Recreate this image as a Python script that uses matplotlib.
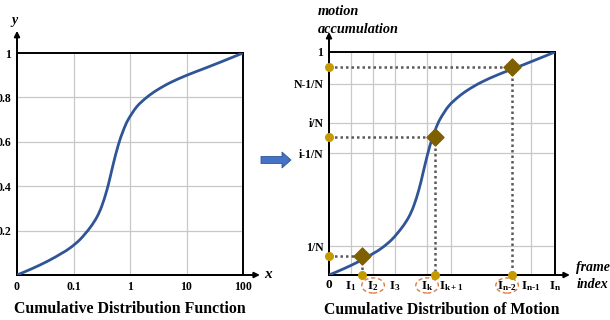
import matplotlib
matplotlib.use("Agg")
import matplotlib.pyplot as plt
from matplotlib.patches import Ellipse, FancyArrow, PathPatch
from matplotlib.path import Path

plt.rcParams["font.family"] = "Liberation Serif"
plt.rcParams["font.weight"] = "bold"
plt.rcParams["mathtext.fontset"] = "custom"
plt.rcParams["mathtext.rm"] = "Liberation Serif:bold"
plt.rcParams["mathtext.it"] = "Liberation Serif:italic:bold"
plt.rcParams["mathtext.bf"] = "Liberation Serif:bold"

CURVE = "#2F5597"
GRID = "#C8C8C8"
DOT = "#C49A00"
DIAMOND = "#7F6000"
DOTLINE = "#595959"
RING = "#E07A3F"

# cumulative curve (fraction of axis width / height)
curve_x = [0.0, 0.065, 0.139, 0.198, 0.235, 0.279, 0.323, 0.353, 0.375, 0.397,
           0.412, 0.426, 0.448, 0.470, 0.492, 0.530, 0.574, 0.618, 0.677,
           0.752, 0.823, 0.898, 1.0]
curve_y = [0.0, 0.028, 0.064, 0.098, 0.122, 0.160, 0.213, 0.260, 0.310, 0.380,
           0.440, 0.500, 0.585, 0.650, 0.700, 0.758, 0.800, 0.832, 0.866,
           0.900, 0.928, 0.958, 1.0]

# left panel: log-like x axis
cdf_xticks = [0.0, 0.25, 0.5, 0.75, 1.0]
cdf_xlabels = ["0", "0.1", "1", "10", "100"]
cdf_yticks = [0.2, 0.4, 0.6, 0.8, 1.0]
cdf_ylabels = ["0.2", "0.4", "0.6", "0.8", "1"]

# right panel: frame index axis
frame_pos = [0.0, 0.097, 0.195, 0.292, 0.434, 0.540, 0.788, 0.894, 1.0]
frame_labels = [r"0", r"I$_1$", r"I$_2$", r"I$_3$", r"I$_\mathrm{k}$",
                r"I$_\mathrm{k+1}$", r"I$_\mathrm{n\text{-}2}$",
                r"I$_\mathrm{n\text{-}1}$", r"I$_\mathrm{n}$"]
frame_grid = [0.097, 0.195, 0.292, 0.434, 0.540, 0.894]
circled = [2, 4, 6]
acc_pos = [0.13, 0.547, 0.682, 0.857, 1.0]
acc_labels = ["1/N", "i-1/N", "i/N", "N-1/N", "1"]

# sampled keyframes
sample_x = [0.146, 0.469, 0.81]
sample_y = [0.085, 0.619, 0.933]


def smooth_curve(ax, xs, ys):
    # Catmull-Rom through the read points, drawn as cubic Bezier segments
    pts = list(zip(xs, ys))
    verts = [pts[0]]
    codes = [Path.MOVETO]
    for i in range(len(pts) - 1):
        p0 = pts[max(i - 1, 0)]
        p1 = pts[i]
        p2 = pts[i + 1]
        p3 = pts[min(i + 2, len(pts) - 1)]
        c1 = (p1[0] + (p2[0] - p0[0]) / 6, p1[1] + (p2[1] - p0[1]) / 6)
        c2 = (p2[0] - (p3[0] - p1[0]) / 6, p2[1] - (p3[1] - p1[1]) / 6)
        verts += [c1, c2, p2]
        codes += [Path.CURVE4] * 3
    ax.add_patch(PathPatch(Path(verts, codes), fill=False, edgecolor=CURVE,
                           lw=2.0, capstyle="round", zorder=3))


def frame_axes(ax, xtip, ytip):
    ax.set_xlim(0, 1)
    ax.set_ylim(0, 1)
    for s in ax.spines.values():
        s.set_linewidth(1.4)
        s.set_color("black")
    ax.tick_params(length=0, labelsize=8.5, pad=4)
    for tip in [(xtip, 0), (0, ytip)]:
        ax.annotate("", xy=tip, xytext=(0, 0), xycoords="axes fraction",
                    arrowprops=dict(arrowstyle="-|>", color="black", lw=1.4,
                                    mutation_scale=8, shrinkA=0, shrinkB=0),
                    annotation_clip=False)


fig = plt.figure(figsize=(6.1, 3.2), dpi=100)
fig.patch.set_facecolor("white")

# ---- left: CDF ----
ax1 = fig.add_axes([17 / 610, 45 / 320, 226 / 610, 222 / 320])
frame_axes(ax1, 1.075, 1.10)
for x in cdf_xticks[1:-1]:
    ax1.axvline(x, color=GRID, lw=0.9, zorder=0)
for y in cdf_yticks[:-1]:
    ax1.axhline(y, color=GRID, lw=0.9, zorder=0)
smooth_curve(ax1, curve_x, curve_y)
ax1.set_xticks(cdf_xticks, cdf_xlabels)
ax1.set_yticks(cdf_yticks, cdf_ylabels)
ax1.text(-0.01, 1.145, "y", transform=ax1.transAxes, fontsize=10,
         style="italic", ha="center", va="center")
ax1.text(1.11, 0.0, "x", transform=ax1.transAxes, fontsize=11,
         style="italic", ha="center", va="center")
ax1.text(0.5, -0.155, "Cumulative Distribution Function",
         transform=ax1.transAxes, fontsize=11.4, ha="center", va="center")

# ---- middle arrow ----
fig.patches.append(FancyArrow(261 / 610, 1 - 160 / 320, 30 / 610, 0,
                              width=7 / 320, head_width=16 / 320,
                              head_length=9 / 610, length_includes_head=True,
                              transform=fig.transFigure, facecolor="#4472C4",
                              edgecolor="#2F5597", lw=0.6))

# ---- right: motion accumulation ----
ax2 = fig.add_axes([329 / 610, 45 / 320, 226 / 610, 223 / 320])
frame_axes(ax2, 1.066, 1.09)
for x in frame_grid:
    ax2.axvline(x, color=GRID, lw=0.9, zorder=0)
for y in acc_pos[:-1]:
    ax2.axhline(y, color=GRID, lw=0.9, zorder=0)
smooth_curve(ax2, curve_x, curve_y)
for sx, sy in zip(sample_x, sample_y):
    ax2.plot([0, sx], [sy, sy], color=DOTLINE, lw=1.8, ls=(0, (1, 1.2)))
    ax2.plot([sx, sx], [sy, 0], color=DOTLINE, lw=1.8, ls=(0, (1, 1.2)))
ax2.scatter([0] * len(sample_y), sample_y, s=30, color=DOT, zorder=5,
            clip_on=False)
ax2.scatter(sample_x, [0] * len(sample_x), s=30, color=DOT, zorder=5,
            clip_on=False)
ax2.scatter(sample_x, sample_y, s=75, marker="D", color=DIAMOND, zorder=6,
            clip_on=False)
ax2.set_xticks(frame_pos, frame_labels)
ax2.tick_params(axis="x", labelsize=9.5, pad=3)
ax2.set_yticks(acc_pos, acc_labels)
for i in circled:
    ax2.add_patch(Ellipse((frame_pos[i], -0.047), 0.1, 0.068,
                          transform=ax2.transAxes, fill=False,
                          edgecolor=RING, lw=1.0, ls=(0, (3, 2)),
                          clip_on=False))
ax2.text(-0.05, 1.072, "motion\naccumulation", transform=ax2.transAxes,
         fontsize=10.3, style="italic", ha="left", va="bottom",
         linespacing=1.5)
ax2.text(1.095, -0.005, "frame\nindex", transform=ax2.transAxes,
         fontsize=10, style="italic", ha="left", va="center",
         linespacing=1.35)
ax2.text(0.5, -0.155, "Cumulative Distribution of Motion",
         transform=ax2.transAxes, fontsize=11.3, ha="center", va="center")

fig.savefig("out.png", dpi=100, facecolor="white")
